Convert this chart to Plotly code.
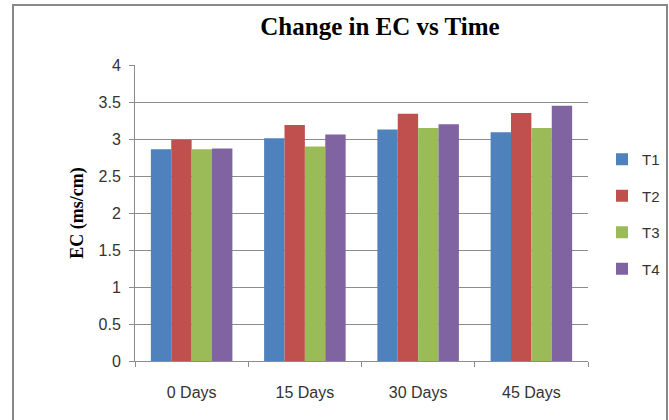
import plotly.graph_objects as go

categories = ["0 Days", "15 Days", "30 Days", "45 Days"]
series_names = ["T1", "T2", "T3", "T4"]
t1 = [2.86, 3.01, 3.13, 3.09]
t2 = [2.99, 3.19, 3.34, 3.35]
t3 = [2.86, 2.90, 3.15, 3.15]
t4 = [2.87, 3.06, 3.20, 3.45]
colors = ["#4F81BD", "#C0504D", "#9BBB59", "#8064A2"]
y_ticks = [0, 0.5, 1, 1.5, 2, 2.5, 3, 3.5, 4]
y_tick_labels = ["0", "0.5", "1", "1.5", "2", "2.5", "3", "3.5", "4"]

W, H = 669, 420
L, R, T, B = 135, 81, 65, 59
pw, ph = W - L - R, H - T - B

def px_x(p):
    return (p - L) / pw

def px_y(p):
    return (H - B - p) / ph

fig = go.Figure()
for name, vals, col in zip(series_names, [t1, t2, t3, t4], colors):
    fig.add_trace(go.Bar(name=name, x=categories, y=vals, marker_color=col,
                         marker_line_width=0, legendgroup=name))

tick_font = dict(family="Liberation Sans", size=16, color="#333")

fig.update_layout(
    width=W, height=H,
    margin=dict(l=L, r=R, t=T, b=B, autoexpand=False),
    paper_bgcolor="white", plot_bgcolor="white",
    barmode="group", bargap=0.28, bargroupgap=0,
    title=dict(text="<b>Change in EC vs Time</b>", x=px_x(380), xref="paper", xanchor="center",
               y=1 - 26 / H, yanchor="middle",
               font=dict(family="Liberation Serif", size=25, color="black")),
    legend=dict(x=px_x(602), xanchor="left", y=px_y(214), yanchor="middle",
                font=dict(family="Liberation Sans", size=15, color="#333"),
                tracegroupgap=14, traceorder="grouped", bgcolor="rgba(0,0,0,0)"),
    font=dict(family="Liberation Sans", size=16, color="#333"),
)
fig.update_yaxes(range=[0, 4], tickvals=y_ticks, ticktext=y_tick_labels,
                 tickfont=tick_font,
                 automargin=False, ticklabelstandoff=5,
                 showgrid=True, gridcolor="#8c8c8c", gridwidth=1,
                 showline=True, linecolor="#8c8c8c", linewidth=1,
                 ticks="outside", ticklen=5, tickcolor="#8c8c8c",
                 zeroline=False,
                 title=dict(text="<b>EC (ms/cm)</b>", standoff=10,
                            font=dict(family="Liberation Serif", size=18, color="black")))
fig.update_xaxes(showline=True, linecolor="#8c8c8c", linewidth=1,
                 tickfont=tick_font,
                 automargin=False, ticklabelstandoff=17,
                 ticks="outside", ticklen=5, tickcolor="#8c8c8c",
                 tickson="boundaries", showgrid=False)

fig.add_shape(type="rect", xref="paper", yref="paper",
              x0=px_x(13), x1=px_x(667), y0=px_y(430), y1=px_y(5),
              line=dict(color="#888888", width=2), fillcolor="rgba(0,0,0,0)", layer="below")

fig.write_html("out.html", config={"displayModeBar": False},
               post_script="document.body.style.margin='0';")
